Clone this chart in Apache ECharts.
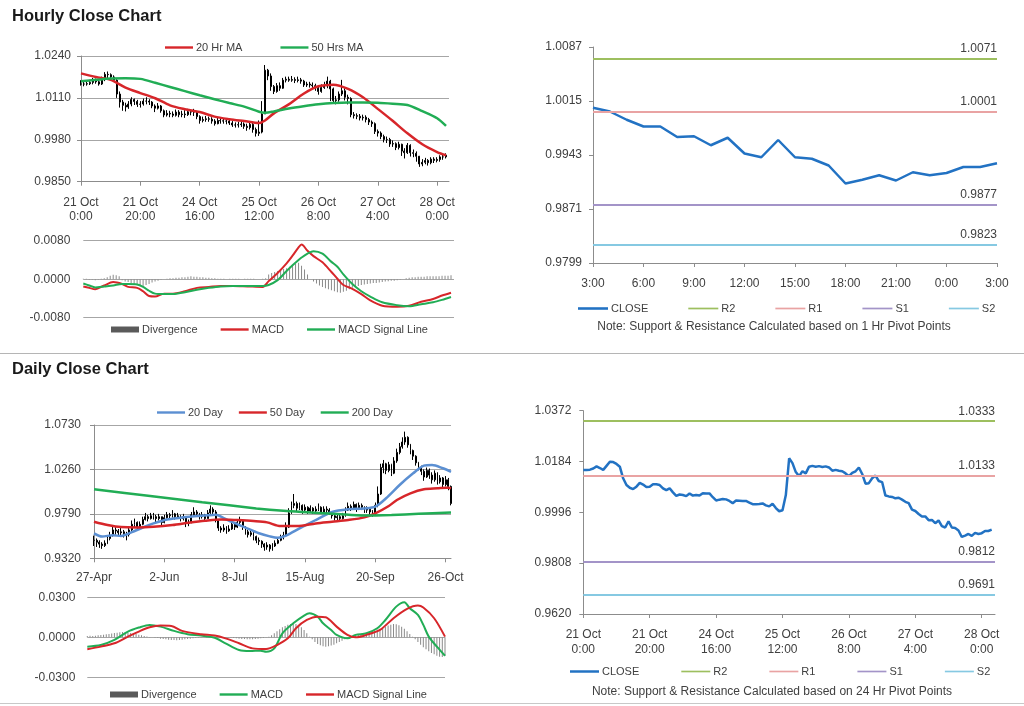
<!DOCTYPE html>
<html><head><meta charset="utf-8">
<script src="https://cdn.jsdelivr.net/npm/echarts@6/dist/echarts.min.js"></script>
<style>
html,body{margin:0;padding:0;background:#fff;width:1024px;height:706px;overflow:hidden}
.c{position:absolute;left:0;top:0;width:1024px;height:706px}
</style></head>
<body>
<div id="c0" class="c"></div><div id="c1" class="c"></div><div id="c2" class="c"></div>
<div id="c3" class="c"></div><div id="c4" class="c"></div><div id="c5" class="c"></div><div id="c6" class="c"></div>
<script>
// ---------------- DATA ----------------
const H_TICKS = ['21 Oct\n0:00','21 Oct\n20:00','24 Oct\n16:00','25 Oct\n12:00','26 Oct\n8:00','27 Oct\n4:00','28 Oct\n0:00'];
const TR_TICKS = ['3:00','6:00','9:00','12:00','15:00','18:00','21:00','0:00','3:00'];
const D_TICKS = ['27-Apr','2-Jun','8-Jul','15-Aug','20-Sep','26-Oct'];

// hourly close (124 hours, 21 Oct 0:00 .. 28 Oct 3:00)
const H_CLOSE = [1.0153,1.0153,1.0154,1.0158,1.0166,1.0160,1.0153,1.0168,1.0183,1.0182,
1.0175,1.0165,1.0122,1.0097,1.0087,1.0082,1.0091,1.0105,1.0099,1.0090,
1.0091,1.0100,1.0100,1.0097,1.0085,1.0078,1.0085,1.0070,1.0057,1.0062,
1.0060,1.0056,1.0066,1.0058,1.0060,1.0058,1.0067,1.0066,1.0066,1.0052,
1.0040,1.0043,1.0045,1.0044,1.0038,1.0030,1.0040,1.0039,1.0038,1.0038,
1.0032,1.0026,1.0026,1.0027,1.0029,1.0022,1.0018,1.0028,1.0012,1.0000,
1.0004,1.0060,1.0196,1.0178,1.0145,1.0130,1.0148,1.0140,1.0165,1.0168,
1.0165,1.0167,1.0164,1.0166,1.0162,1.0150,1.0153,1.0150,1.0148,1.0140,
1.0130,1.0142,1.0148,1.0162,1.0138,1.0102,1.0104,1.0122,1.0132,1.0112,
1.0108,1.0058,1.0055,1.0053,1.0048,1.0050,1.0043,1.0035,1.0030,1.0006,
1.0001,0.9990,0.9981,0.9981,0.9967,0.9968,0.9956,0.9966,0.9945,0.9940,
0.9963,0.9940,0.9938,0.9929,0.9905,0.9910,0.9916,0.9909,0.9920,0.9916,
0.9919,0.9927,0.9927,0.9932];
const H_HIGH = [1.0165,1.0160,1.0162,1.0166,1.0172,1.0170,1.0164,1.0176,1.0190,1.0192,
1.0186,1.0180,1.0168,1.0130,1.0104,1.0095,1.0100,1.0112,1.0108,1.0104,
1.0100,1.0108,1.0112,1.0106,1.0100,1.0090,1.0094,1.0088,1.0074,1.0072,
1.0070,1.0068,1.0074,1.0072,1.0070,1.0072,1.0076,1.0074,1.0076,1.0070,
1.0056,1.0052,1.0054,1.0052,1.0050,1.0044,1.0048,1.0048,1.0046,1.0046,
1.0044,1.0038,1.0034,1.0036,1.0038,1.0034,1.0030,1.0036,1.0032,1.0018,
1.0040,1.0100,1.0212,1.0200,1.0186,1.0150,1.0156,1.0158,1.0172,1.0176,
1.0176,1.0178,1.0174,1.0176,1.0172,1.0166,1.0160,1.0160,1.0158,1.0154,
1.0150,1.0152,1.0160,1.0176,1.0166,1.0142,1.0116,1.0130,1.0166,1.0140,
1.0120,1.0112,1.0066,1.0062,1.0060,1.0058,1.0056,1.0048,1.0040,1.0034,
1.0012,1.0006,0.9996,0.9990,0.9986,0.9978,0.9972,0.9974,0.9968,0.9954,
0.9970,0.9966,0.9950,0.9944,0.9930,0.9920,0.9924,0.9920,0.9926,0.9926,
0.9926,0.9932,0.9934,0.9938];
const H_LOW = [1.0148,1.0146,1.0148,1.0150,1.0152,1.0154,1.0148,1.0150,1.0162,1.0170,
1.0166,1.0160,1.0110,1.0080,1.0070,1.0068,1.0076,1.0084,1.0088,1.0082,
1.0080,1.0086,1.0090,1.0088,1.0078,1.0066,1.0074,1.0064,1.0050,1.0052,
1.0050,1.0050,1.0052,1.0050,1.0050,1.0048,1.0054,1.0056,1.0054,1.0044,
1.0030,1.0034,1.0036,1.0036,1.0030,1.0024,1.0028,1.0030,1.0030,1.0028,
1.0026,1.0020,1.0018,1.0018,1.0020,1.0014,1.0008,1.0012,1.0002,0.9990,
0.9992,1.0000,1.0060,1.0165,1.0132,1.0122,1.0126,1.0132,1.0138,1.0158,
1.0160,1.0160,1.0156,1.0158,1.0154,1.0144,1.0144,1.0142,1.0140,1.0132,
1.0120,1.0126,1.0138,1.0140,1.0100,1.0094,1.0090,1.0098,1.0116,1.0102,
1.0090,1.0050,1.0046,1.0044,1.0040,1.0040,1.0034,1.0026,1.0020,0.9998,
0.9990,0.9982,0.9972,0.9970,0.9958,0.9958,0.9948,0.9950,0.9930,0.9922,
0.9936,0.9928,0.9926,0.9912,0.9896,0.9898,0.9904,0.9900,0.9904,0.9908,
0.9910,0.9912,0.9918,0.9922];

// hourly moving averages (read at these hour indices)
const H_MA_IDX = [0,5,10,15,20,25,30,35,40,45,50,55,60,62,65,70,75,80,85,90,95,100,105,110,115,120,123];
const H_MA20 = [1.0186,1.0175,1.0166,1.0142,1.0125,1.0109,1.0087,1.0075,1.0066,1.0052,1.0044,1.0038,1.0032,1.0040,1.0062,1.0090,1.0123,1.0146,1.0151,1.0138,1.0112,1.0076,1.0039,1.0000,0.9966,0.9942,0.9932];
const H_MA50 = [1.0162,1.0166,1.0170,1.0171,1.0169,1.0157,1.0144,1.0131,1.0118,1.0106,1.0094,1.0083,1.0067,1.0064,1.0068,1.0077,1.0084,1.0090,1.0094,1.0096,1.0096,1.0095,1.0092,1.0088,1.0069,1.0047,1.0023];

// hourly MACD
const H_MACD_IDX = [0,2,4,7,10,13,15,18,20,22,24,27,30,34,38,42,46,50,55,60,62,65,68,70,72,73,75,77,80,83,85,87,90,93,96,100,105,109,113,117,120,123];
const H_MACD = [-0.0015,-0.0018,-0.0021,-0.0013,-0.0006,-0.0010,-0.0016,-0.0018,-0.0025,-0.0035,-0.0036,-0.0030,-0.0030,-0.0025,-0.0018,-0.0016,-0.0014,-0.0014,-0.0015,-0.0016,-0.0004,0.0013,0.0033,0.0049,0.0066,0.0072,0.0059,0.0048,0.0035,0.0015,0.0001,-0.0012,-0.0020,-0.0031,-0.0044,-0.0055,-0.0057,-0.0055,-0.0047,-0.0041,-0.0034,-0.0028];
const H_SIGNAL = [-0.0009,-0.0013,-0.0017,-0.0015,-0.0013,-0.0010,-0.0010,-0.0011,-0.0016,-0.0024,-0.0030,-0.0031,-0.0031,-0.0027,-0.0022,-0.0018,-0.0015,-0.0014,-0.0014,-0.0014,-0.0012,-0.0002,0.0017,0.0029,0.0040,0.0045,0.0053,0.0058,0.0053,0.0036,0.0026,0.0010,-0.0010,-0.0025,-0.0036,-0.0048,-0.0054,-0.0056,-0.0052,-0.0048,-0.0043,-0.0037];
const H_DIV = [0.0001,0.0001,-0.0001,-0.0001,-0.0002,-0.0001,0.0001,0.0002,
0.0004,0.0007,0.0009,0.0008,0.0006,
-0.0002,-0.0005,-0.0006,-0.0008,-0.0010,-0.0012,-0.0013,-0.0014,-0.0012,-0.0010,-0.0007,-0.0005,
-0.0003,-0.0001,0.0000,0.0001,0.0002,0.0002,0.0003,0.0003,0.0004,0.0004,0.0005,
0.0006,0.0005,0.0005,0.0004,0.0004,0.0003,0.0003,0.0002,0.0002,0.0001,
0.0001,0.0001,0.0000,0.0001,0.0001,0.0001,0.0001,0.0000,0.0001,0.0001,0.0001,0.0001,0.0000,0.0000,0.0001,0.0002,
0.0010,0.0013,0.0015,0.0017,0.0019,0.0021,0.0023,0.0026,0.0029,0.0032,0.0034,0.0028,0.0020,0.0010,
0.0000,-0.0005,-0.0009,-0.0013,-0.0016,-0.0019,-0.0021,-0.0023,-0.0025,-0.0027,-0.0028,-0.0026,-0.0024,-0.0021,-0.0018,
-0.0016,-0.0014,-0.0012,-0.0011,-0.0010,-0.0009,-0.0008,-0.0008,-0.0007,-0.0006,-0.0005,-0.0004,-0.0003,-0.0003,-0.0002,-0.0001,0.0000,
0.0002,0.0003,0.0004,0.0004,0.0005,0.0005,0.0005,0.0006,0.0006,0.0006,0.0006,0.0006,0.0007,0.0007,0.0007,0.0008];

// 1 Hr pivot levels and 24 Hr pivot levels
const LEVELS_1H = [['R2',1.0071],['R1',1.0001],['S1',0.9877],['S2',0.9823]];
const LEVELS_24H = [['R2',1.0333],['R1',1.0133],['S1',0.9812],['S2',0.9691]];
const TR_FIRST_HOUR = 99; // 27 Oct 3:00 — last 25 hourly closes

// daily (133 trading days, 27-Apr .. 28-Oct)
const D_CLOSE = [0.9510,0.9490,0.9470,0.9455,0.9480,0.9530,0.9560,0.9620,0.9610,0.9590,
0.9600,0.9580,0.9570,0.9620,0.9680,0.9700,0.9650,0.9680,0.9730,0.9760,
0.9740,0.9770,0.9760,0.9740,0.9760,0.9700,0.9750,0.9780,0.9770,0.9790,
0.9760,0.9770,0.9740,0.9760,0.9690,0.9700,0.9780,0.9810,0.9790,0.9760,
0.9780,0.9740,0.9800,0.9840,0.9810,0.9720,0.9640,0.9620,0.9640,0.9610,
0.9630,0.9680,0.9650,0.9700,0.9720,0.9650,0.9600,0.9570,0.9590,0.9550,
0.9510,0.9500,0.9470,0.9440,0.9460,0.9420,0.9450,0.9480,0.9510,0.9540,
0.9560,0.9650,0.9800,0.9880,0.9900,0.9850,0.9880,0.9830,0.9860,0.9820,
0.9850,0.9820,0.9840,0.9860,0.9810,0.9840,0.9830,0.9810,0.9770,0.9750,
0.9760,0.9740,0.9770,0.9830,0.9870,0.9850,0.9890,0.9840,0.9880,0.9860,
0.9830,0.9840,0.9810,0.9790,0.9880,1.0000,1.0280,1.0320,1.0250,1.0310,
1.0220,1.0350,1.0440,1.0500,1.0550,1.0600,1.0520,1.0460,1.0400,1.0330,
1.0280,1.0240,1.0180,1.0250,1.0200,1.0150,1.0220,1.0130,1.0170,1.0100,
1.0150,1.0080,0.9900];
const D_HIGH = [0.9560,0.9530,0.9510,0.9490,0.9510,0.9560,0.9600,0.9660,0.9650,0.9630,
0.9640,0.9620,0.9600,0.9650,0.9720,0.9740,0.9710,0.9710,0.9760,0.9800,
0.9780,0.9800,0.9800,0.9780,0.9790,0.9760,0.9780,0.9810,0.9800,0.9830,
0.9800,0.9800,0.9780,0.9790,0.9760,0.9730,0.9810,0.9860,0.9830,0.9800,
0.9810,0.9790,0.9830,0.9880,0.9860,0.9830,0.9730,0.9660,0.9680,0.9660,
0.9670,0.9710,0.9700,0.9730,0.9760,0.9730,0.9660,0.9620,0.9620,0.9600,
0.9560,0.9540,0.9510,0.9480,0.9490,0.9470,0.9480,0.9510,0.9540,0.9570,
0.9600,0.9700,0.9850,0.9920,1.0000,0.9920,0.9910,0.9890,0.9890,0.9870,
0.9880,0.9860,0.9870,0.9900,0.9870,0.9870,0.9870,0.9850,0.9820,0.9790,
0.9790,0.9780,0.9800,0.9860,0.9910,0.9890,0.9920,0.9900,0.9910,0.9900,
0.9870,0.9870,0.9850,0.9830,0.9910,1.0080,1.0320,1.0360,1.0330,1.0340,
1.0320,1.0390,1.0480,1.0540,1.0600,1.0660,1.0610,1.0530,1.0470,1.0410,
1.0340,1.0300,1.0260,1.0280,1.0270,1.0230,1.0250,1.0230,1.0200,1.0180,
1.0190,1.0170,1.0090];
const D_LOW = [0.9450,0.9440,0.9430,0.9420,0.9440,0.9470,0.9510,0.9550,0.9570,0.9560,
0.9550,0.9540,0.9510,0.9550,0.9610,0.9650,0.9630,0.9640,0.9670,0.9720,
0.9710,0.9730,0.9730,0.9700,0.9720,0.9670,0.9690,0.9740,0.9740,0.9750,
0.9730,0.9740,0.9710,0.9720,0.9650,0.9660,0.9690,0.9770,0.9760,0.9730,
0.9740,0.9710,0.9740,0.9790,0.9780,0.9700,0.9610,0.9590,0.9600,0.9580,
0.9600,0.9620,0.9620,0.9640,0.9680,0.9620,0.9570,0.9540,0.9550,0.9510,
0.9480,0.9460,0.9430,0.9400,0.9410,0.9390,0.9400,0.9440,0.9470,0.9500,
0.9520,0.9550,0.9640,0.9790,0.9850,0.9820,0.9830,0.9790,0.9810,0.9790,
0.9800,0.9790,0.9800,0.9820,0.9790,0.9790,0.9800,0.9780,0.9740,0.9720,
0.9720,0.9710,0.9730,0.9760,0.9820,0.9820,0.9840,0.9810,0.9830,0.9830,
0.9800,0.9800,0.9780,0.9760,0.9780,0.9860,0.9990,1.0220,1.0210,1.0230,
1.0190,1.0210,1.0330,1.0420,1.0480,1.0520,1.0490,1.0420,1.0360,1.0300,
1.0250,1.0200,1.0140,1.0170,1.0160,1.0110,1.0130,1.0100,1.0110,1.0060,
1.0080,1.0040,0.9880];

// daily moving averages (read at these day indices)
const D_MA20_IDX = [0,3,7,10,14,18,22,27,32,37,42,45,48,51,56,61,65,68,71,76,82,88,94,100,104,108,113,118,122,125,129,132];
const D_MA20 = [0.9584,0.9550,0.9565,0.9555,0.9596,0.9646,0.9689,0.9731,0.9749,0.9765,0.9775,0.9780,0.9745,0.9705,0.9645,0.9585,0.9552,0.9537,0.9560,0.9636,0.9725,0.9810,0.9840,0.9848,0.9866,0.9955,1.0095,1.0219,1.0300,1.0307,1.0272,1.0235];
const D_MA50_IDX = [0,5,10,16,22,29,35,41,47,53,59,64,69,75,82,88,94,100,104,109,112,117,122,127,131,132];
const D_MA50 = [0.9707,0.9672,0.9650,0.9647,0.9654,0.9672,0.9696,0.9717,0.9731,0.9724,0.9714,0.9700,0.9661,0.9661,0.9689,0.9707,0.9725,0.9753,0.9795,0.9873,0.9937,1.0007,1.0050,1.0060,1.0067,1.0060];
const D_MA200_IDX = [0,20,40,60,70,80,90,100,110,120,132];
const D_MA200 = [1.0050,0.9982,0.9914,0.9848,0.9822,0.9805,0.9788,0.9772,0.9778,0.9790,0.9804];

// daily MACD
const D_MACD_IDX = [0,5,10,15,19,23,27,32,37,42,47,51,56,60,64,66,69,72,76,80,82,85,87,90,92,96,99,103,107,110,114,117,119,122,124,126,129,132];
const D_MACD = [-0.0070,-0.0058,-0.0020,0.0043,0.0073,0.0093,0.0080,0.0048,0.0023,0.0013,-0.0003,-0.0045,-0.0095,-0.0103,-0.0100,-0.0108,-0.0083,0.0030,0.0105,0.0163,0.0180,0.0155,0.0105,0.0055,0.0018,-0.0008,0.0018,0.0030,0.0068,0.0130,0.0230,0.0263,0.0218,0.0168,0.0093,0.0005,-0.0070,-0.0138];
const D_SIGNAL_IDX = [0,5,10,15,19,23,27,31,35,42,47,51,56,61,66,70,74,77,81,85,88,92,96,99,103,108,113,118,122,124,128,132];
const D_SIGNAL = [-0.0090,-0.0070,-0.0045,0.0005,0.0043,0.0075,0.0088,0.0085,0.0048,0.0023,0.0013,-0.0008,-0.0045,-0.0083,-0.0088,-0.0058,-0.0008,0.0068,0.0130,0.0155,0.0150,0.0080,0.0018,0.0000,0.0018,0.0055,0.0143,0.0213,0.0238,0.0223,0.0143,0.0005];
const D_DIV = [0.0010,0.0012,0.0010,0.0012,0.0015,0.0018,0.0020,0.0022,0.0025,0.0028,
0.0032,0.0035,0.0038,0.0040,0.0038,0.0035,0.0032,0.0028,0.0025,0.0020,
0.0015,0.0010,0.0006,0.0003,0.0000,-0.0003,-0.0006,-0.0010,-0.0012,-0.0015,
-0.0018,-0.0020,-0.0020,-0.0022,-0.0020,-0.0018,-0.0015,-0.0012,-0.0010,-0.0008,
-0.0006,-0.0004,-0.0002,0.0000,0.0002,0.0003,0.0004,0.0004,0.0003,0.0002,
0.0001,0.0000,-0.0002,-0.0004,-0.0006,-0.0008,-0.0010,-0.0012,-0.0013,-0.0014,
-0.0015,-0.0014,-0.0012,-0.0010,-0.0008,-0.0005,-0.0002,0.0005,0.0015,0.0030,
0.0045,0.0060,0.0075,0.0085,0.0095,0.0100,0.0105,0.0100,0.0090,0.0075,
0.0055,0.0030,0.0005,-0.0015,-0.0035,-0.0050,-0.0060,-0.0068,-0.0070,-0.0068,
-0.0062,-0.0055,-0.0045,-0.0035,-0.0025,-0.0015,-0.0008,0.0000,0.0008,0.0015,
0.0020,0.0025,0.0030,0.0035,0.0040,0.0045,0.0050,0.0058,0.0065,0.0072,
0.0080,0.0088,0.0095,0.0100,0.0098,0.0090,0.0080,0.0065,0.0045,0.0025,
0.0005,-0.0015,-0.0035,-0.0055,-0.0075,-0.0090,-0.0105,-0.0118,-0.0128,-0.0138,
-0.0145,-0.0148,-0.0140];

// ---------------- STYLE ----------------
const FONT = '"Liberation Sans", Arial, sans-serif';
const TXT = '#404040', AX = '#8c8c8c', GRID = '#a6a6a6';
const RED = '#d7262a', GREEN = '#21ad55', BLUE = '#5b8fd2', CLOSE_C = '#2272c3', DIVC = '#8a8a8a';
const LEVEL_COLORS = {R2:'#9dbf5f', R1:'#e9a3a3', S1:'#a394c8', S2:'#86c9e2'};
const LINE_ICON = 'path://M0 0H28V2.4H0Z';
const THIN_ICON = 'path://M0 0H28V1.6H0Z';

const pairs = (idx, vals) => idx.map((x, k) => [x, vals[k]]);
const cats = n => Array.from({length: n}, (_, i) => String(i));
const ohlc = (c, h, l) => c.map((v, i) => [i ? c[i-1] : v, v, l[i], h[i]]);
const fmt4 = v => v.toFixed(4);

function valAxis(min, max, interval, o) {
  return Object.assign({
    type: 'value', min, max, interval,
    axisLine: {show: true, lineStyle: {color: AX}},
    axisTick: {show: true, length: 4, lineStyle: {color: AX}},
    axisLabel: {formatter: fmt4, fontSize: 12, color: TXT, margin: 10, fontFamily: FONT},
    splitLine: {show: true, lineStyle: {color: GRID, width: 1}}
  }, o || {});
}
function catAxis(n, every, ticks, o) {
  return Object.assign({
    type: 'category', data: cats(n), boundaryGap: false,
    axisLine: {show: true, lineStyle: {color: AX}},
    axisTick: {show: true, interval: every - 1, length: 4, lineStyle: {color: AX}},
    axisLabel: {interval: every - 1, formatter: (v, i) => ticks[Math.round(i / every)] || '', fontSize: 12, color: TXT, margin: 14, lineHeight: 14, fontFamily: FONT},
    splitLine: {show: false}
  }, o || {});
}
const legendBase = (left, top, gap, width, data) => ({
  left, top, itemWidth: width, itemHeight: 6, itemGap: gap, data,
  textStyle: {fontSize: 11, color: TXT, fontFamily: FONT, padding: [0, 0, 0, -2]}
});
const li = (name, icon) => ({name, icon: icon || LINE_ICON});
const maLine = (name, data, color, width) => ({
  type: 'line', name, data, symbol: 'none', showSymbol: false, smooth: 0.3, color,
  lineStyle: {width: width || 2.5, color}, itemStyle: {color}, z: 3
});
const barStyle = {color: '#000', color0: '#000', borderColor: '#000', borderColor0: '#000', borderWidth: 1};
const levelSeries = (levels) => levels.map(([name, v]) => ({
  type: 'line', name, data: [], color: LEVEL_COLORS[name], symbol: 'none',
  lineStyle: {color: LEVEL_COLORS[name], width: 1.5}, itemStyle: {color: LEVEL_COLORS[name]},
  markLine: {silent: true, symbol: ['none', 'none'], animation: false, precision: 4,
    lineStyle: {color: LEVEL_COLORS[name], width: 2, type: 'solid'},
    label: {show: true, position: 'insideEndTop', formatter: v.toFixed(4), color: TXT, fontSize: 12, fontFamily: FONT, distance: [0, 4]},
    emphasis: {disabled: true},
    data: [{yAxis: v}]}
}));

const base = {animation: false, textStyle: {fontFamily: FONT}};
const mk = id => echarts.init(document.getElementById(id), null, {renderer: 'canvas'});

// ---------------- DECOR ----------------
mk('c0').setOption(Object.assign({}, base, {
  graphic: [
    {type: 'text', left: 12, top: 8, style: {text: 'Hourly Close Chart', font: 'bold 16.5px ' + FONT, fill: '#1a1a1a'}},
    {type: 'text', left: 12, top: 361, style: {text: 'Daily Close Chart', font: 'bold 16.5px ' + FONT, fill: '#1a1a1a'}},
    {type: 'line', shape: {x1: 0, y1: 353.5, x2: 1024, y2: 353.5}, style: {stroke: '#b5b5b5', lineWidth: 1}},
    {type: 'line', shape: {x1: 0, y1: 703.5, x2: 1024, y2: 703.5}, style: {stroke: '#c8c8c8', lineWidth: 1}},
    {type: 'text', x: 774, y: 327, style: {text: 'Note: Support & Resistance Calculated based on 1 Hr Pivot Points', font: '12px ' + FONT, fill: TXT, align: 'center', verticalAlign: 'middle'}},
    {type: 'text', x: 772, y: 692, style: {text: 'Note: Support & Resistance Calculated based on 24 Hr Pivot Points', font: '12px ' + FONT, fill: TXT, align: 'center', verticalAlign: 'middle'}}
  ]
}));

// ---------------- 1: hourly price ----------------
mk('c1').setOption(Object.assign({}, base, {
  legend: legendBase(160, 37, 38, 28, [li('20 Hr MA'), li('50 Hrs MA')]),
  grid: {left: 81, top: 56, width: 368, height: 125.7},
  xAxis: catAxis(H_CLOSE.length, 20, H_TICKS, {max: 124}),
  yAxis: valAxis(0.9850, 1.0240, 0.0130),
  series: [
    {type: 'candlestick', name: 'Hourly', data: ohlc(H_CLOSE, H_HIGH, H_LOW), barMaxWidth: 2, itemStyle: barStyle, z: 2},
    maLine('20 Hr MA', pairs(H_MA_IDX, H_MA20), RED),
    maLine('50 Hrs MA', pairs(H_MA_IDX, H_MA50), GREEN)
  ]
}));

// ---------------- 2: hourly MACD ----------------
mk('c2').setOption(Object.assign({}, base, {
  legend: legendBase(106, 319, 23, 28, [{name: 'Divergence', icon: 'rect', itemStyle: {color: '#5a5a5a'}}, li('MACD'), li('MACD Signal Line')]),
  grid: {left: 83.3, top: 240.7, width: 370.7, height: 77},
  xAxis: catAxis(H_DIV.length, 20, H_TICKS, {max: 124, axisLine: {show: false}, axisTick: {show: false}, axisLabel: {show: false}}),
  yAxis: valAxis(-0.0080, 0.0080, 0.0080, {axisLine: {show: false}, axisTick: {show: false}, axisLabel: {formatter: fmt4, fontSize: 12, color: TXT, margin: 13, fontFamily: FONT}}),
  series: [
    {type: 'bar', name: 'Divergence', data: H_DIV, barWidth: 1, color: DIVC, itemStyle: {color: DIVC}},
    maLine('MACD', pairs(H_MACD_IDX, H_MACD), RED, 2),
    maLine('MACD Signal Line', pairs(H_MACD_IDX, H_SIGNAL), GREEN, 2)
  ]
}));

// ---------------- 3: last 25 hours with 1 Hr pivots ----------------
const TR_CLOSE = H_CLOSE.slice(TR_FIRST_HOUR);
mk('c3').setOption(Object.assign({}, base, {
  legend: legendBase(573, 298, 40, 30, [li('CLOSE'), li('R2', THIN_ICON), li('R1', THIN_ICON), li('S1', THIN_ICON), li('S2', THIN_ICON)]),
  grid: {left: 593, top: 47, width: 404, height: 216},
  xAxis: catAxis(TR_CLOSE.length, 3, TR_TICKS, {axisLabel: {interval: 2, formatter: (v, i) => TR_TICKS[Math.round(i / 3)], fontSize: 12, color: TXT, margin: 15, fontFamily: FONT}}),
  yAxis: valAxis(0.9799, 1.0087, 0.0072, {splitLine: {show: false}, axisLabel: {formatter: fmt4, fontSize: 12, color: TXT, margin: 11, fontFamily: FONT}}),
  series: [Object.assign(maLine('CLOSE', TR_CLOSE, CLOSE_C, 2.5), {smooth: false})].concat(levelSeries(LEVELS_1H))
}));

// ---------------- 4: daily price ----------------
mk('c4').setOption(Object.assign({}, base, {
  legend: legendBase(152, 402, 16, 28, [li('20 Day'), li('50 Day'), li('200 Day')]),
  grid: {left: 94, top: 425, width: 357, height: 133.3},
  xAxis: catAxis(D_CLOSE.length, 26, D_TICKS, {axisLabel: {interval: 25, formatter: (v, i) => D_TICKS[Math.round(i / 26)], fontSize: 12, color: TXT, margin: 13, fontFamily: FONT}}),
  yAxis: valAxis(0.9320, 1.0730, 0.0470, {axisLabel: {formatter: fmt4, fontSize: 12, color: TXT, margin: 13, fontFamily: FONT}}),
  series: [
    {type: 'candlestick', name: 'Daily', data: ohlc(D_CLOSE, D_HIGH, D_LOW), barMaxWidth: 2, itemStyle: barStyle, z: 2},
    maLine('20 Day', pairs(D_MA20_IDX, D_MA20), BLUE),
    maLine('50 Day', pairs(D_MA50_IDX, D_MA50), RED),
    maLine('200 Day', pairs(D_MA200_IDX, D_MA200), GREEN)
  ]
}));

// ---------------- 5: daily MACD ----------------
mk('c5').setOption(Object.assign({}, base, {
  legend: legendBase(105, 684, 23, 28, [{name: 'Divergence', icon: 'rect', itemStyle: {color: '#5a5a5a'}}, li('MACD'), li('MACD Signal Line')]),
  grid: {left: 87.3, top: 597.3, width: 357.7, height: 80},
  xAxis: catAxis(D_DIV.length, 26, D_TICKS, {axisLine: {show: false}, axisTick: {show: false}, axisLabel: {show: false}}),
  yAxis: valAxis(-0.0300, 0.0300, 0.0300, {axisLine: {show: false}, axisTick: {show: false}, axisLabel: {formatter: fmt4, fontSize: 12, color: TXT, margin: 12, fontFamily: FONT}}),
  series: [
    {type: 'bar', name: 'Divergence', data: D_DIV, barWidth: 1, color: DIVC, itemStyle: {color: DIVC}},
    maLine('MACD', pairs(D_MACD_IDX, D_MACD), GREEN, 2),
    maLine('MACD Signal Line', pairs(D_SIGNAL_IDX, D_SIGNAL), RED, 2)
  ]
}));

// ---------------- 6: hourly close with 24 Hr pivots ----------------
mk('c6').setOption(Object.assign({}, base, {
  legend: legendBase(565, 661, 42, 29, [li('CLOSE'), li('R2', THIN_ICON), li('R1', THIN_ICON), li('S1', THIN_ICON), li('S2', THIN_ICON)]),
  grid: {left: 583.3, top: 410.7, width: 411.7, height: 203.3},
  xAxis: catAxis(H_CLOSE.length, 20, H_TICKS, {max: 124, axisLabel: {interval: 19, formatter: (v, i) => H_TICKS[Math.round(i / 20)] || '', fontSize: 12, color: TXT, margin: 13, lineHeight: 15, fontFamily: FONT}}),
  yAxis: valAxis(0.9620, 1.0372, 0.0188, {splitLine: {show: false}, axisLabel: {formatter: fmt4, fontSize: 12, color: TXT, margin: 12, fontFamily: FONT}}),
  series: [Object.assign(maLine('CLOSE', H_CLOSE, CLOSE_C, 2.5), {smooth: false})].concat(levelSeries(LEVELS_24H))
}));
</script>
</body></html>
